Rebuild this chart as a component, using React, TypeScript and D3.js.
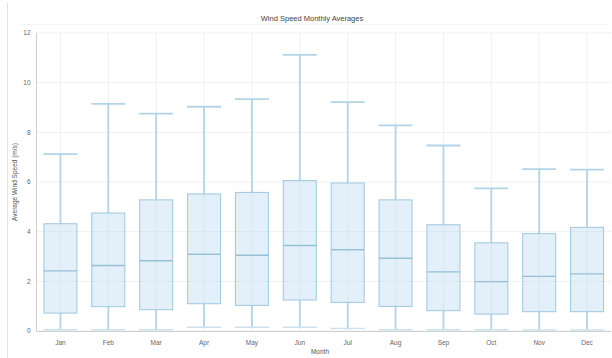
import React, { useEffect, useRef } from 'react';
import * as d3 from 'd3';

// box plot stats, m/s
const months = ['Jan', 'Feb', 'Mar', 'Apr', 'May', 'Jun', 'Jul', 'Aug', 'Sep', 'Oct', 'Nov', 'Dec'];
const mins = [0.05, 0.05, 0.05, 0.15, 0.15, 0.15, 0.1, 0.05, 0.05, 0.05, 0.04, 0.04];
const q1s = [0.72, 0.98, 0.86, 1.1, 1.03, 1.25, 1.15, 0.99, 0.82, 0.68, 0.78, 0.78];
const medians = [2.42, 2.64, 2.83, 3.09, 3.05, 3.44, 3.27, 2.93, 2.38, 1.99, 2.2, 2.3];
const q3s = [4.32, 4.75, 5.28, 5.52, 5.58, 6.06, 5.96, 5.28, 4.28, 3.55, 3.92, 4.17];
const maxs = [7.12, 9.15, 8.75, 9.03, 9.34, 11.12, 9.22, 8.28, 7.47, 5.74, 6.52, 6.5];
const yTicks = [0, 2, 4, 6, 8, 10, 12];

const W = 612;
const H = 358;
const margin = { top: 33, right: 1, bottom: 27, left: 36.5 };

const App = () => {
  const ref = useRef<SVGSVGElement>(null);

  useEffect(() => {
    const svg = d3.select(ref.current);
    svg.selectAll('*').remove();

    const font = '"Liberation Sans", Arial, sans-serif';

    const x = d3
      .scaleBand()
      .domain(months)
      .range([margin.left, W - margin.right])
      .paddingInner(0.29)
      .paddingOuter(0.145);

    const y = d3
      .scaleLinear()
      .domain([0, 12])
      .range([H - margin.bottom, margin.top]);

    // card edge on the left
    svg
      .append('line')
      .attr('x1', 7.5)
      .attr('x2', 7.5)
      .attr('y1', 3)
      .attr('y2', H)
      .attr('stroke', '#e3e3e3');
    svg
      .append('line')
      .attr('x1', 20)
      .attr('x2', 607)
      .attr('y1', 24.5)
      .attr('y2', 24.5)
      .attr('stroke', '#f5f5f5');

    // grid
    svg
      .append('g')
      .selectAll('line')
      .data(yTicks)
      .enter()
      .append('line')
      .attr('x1', margin.left)
      .attr('x2', W - margin.right)
      .attr('y1', (d) => y(d))
      .attr('y2', (d) => y(d))
      .attr('stroke', '#f0f0f0');

    svg
      .append('g')
      .selectAll('line')
      .data(months)
      .enter()
      .append('line')
      .attr('x1', (d) => x(d)! + x.bandwidth() / 2)
      .attr('x2', (d) => x(d)! + x.bandwidth() / 2)
      .attr('y1', margin.top)
      .attr('y2', H - margin.bottom)
      .attr('stroke', '#f0f0f0');

    const stats = months.map((m, i) => ({
      m,
      min: mins[i],
      q1: q1s[i],
      med: medians[i],
      q3: q3s[i],
      max: maxs[i],
    }));

    const bw = x.bandwidth();
    const g = svg
      .append('g')
      .selectAll('g')
      .data(stats)
      .enter()
      .append('g')
      .attr('transform', (d) => `translate(${x(d.m)},0)`);

    const whisker = '#b2d4e7';
    // whiskers
    g.append('line')
      .attr('x1', bw / 2)
      .attr('x2', bw / 2)
      .attr('y1', (d) => y(d.max))
      .attr('y2', (d) => y(d.q3))
      .attr('stroke', whisker)
      .attr('stroke-width', 1.8);
    g.append('line')
      .attr('x1', bw / 2)
      .attr('x2', bw / 2)
      .attr('y1', (d) => y(d.q1))
      .attr('y2', (d) => y(d.min))
      .attr('stroke', whisker)
      .attr('stroke-width', 1.8);
    // caps
    g.append('line')
      .attr('x1', 0)
      .attr('x2', bw)
      .attr('y1', (d) => y(d.max))
      .attr('y2', (d) => y(d.max))
      .attr('stroke', whisker)
      .attr('stroke-width', 1.8);
    g.append('line')
      .attr('x1', 0)
      .attr('x2', bw)
      .attr('y1', (d) => y(d.min))
      .attr('y2', (d) => y(d.min))
      .attr('stroke', '#cbe2ee')
      .attr('stroke-width', 1.5);
    // box
    g.append('rect')
      .attr('x', 0.5)
      .attr('width', bw - 1)
      .attr('y', (d) => y(d.q3))
      .attr('height', (d) => y(d.q1) - y(d.q3))
      .attr('fill', 'rgba(185,218,240,0.4)')
      .attr('stroke', '#a6cbe0')
      .attr('stroke-width', 1.1);
    // median
    g.append('line')
      .attr('x1', 0.5)
      .attr('x2', bw - 0.5)
      .attr('y1', (d) => y(d.med))
      .attr('y2', (d) => y(d.med))
      .attr('stroke', '#97bfd6')
      .attr('stroke-width', 1.4);

    // axes
    svg
      .append('line')
      .attr('x1', margin.left)
      .attr('x2', margin.left)
      .attr('y1', margin.top)
      .attr('y2', H - margin.bottom)
      .attr('stroke', '#cfcfcf');
    svg
      .append('line')
      .attr('x1', margin.left)
      .attr('x2', W - margin.right)
      .attr('y1', H - margin.bottom + 0.5)
      .attr('y2', H - margin.bottom + 0.5)
      .attr('stroke', '#cfcfcf');

    svg
      .append('g')
      .selectAll('text')
      .data(yTicks)
      .enter()
      .append('text')
      .attr('x', margin.left - 6)
      .attr('y', (d) => y(d))
      .attr('dy', '0.35em')
      .attr('text-anchor', 'end')
      .attr('font-family', font)
      .attr('font-size', 6.5)
      .attr('fill', '#666')
      .text((d) => d);

    svg
      .append('g')
      .selectAll('text')
      .data(months)
      .enter()
      .append('text')
      .attr('x', (d) => x(d)! + bw / 2)
      .attr('y', H - margin.bottom + 14)
      .attr('text-anchor', 'middle')
      .attr('font-family', font)
      .attr('font-size', 6.5)
      .attr('fill', '#666')
      .text((d) => d);

    svg
      .append('text')
      .attr('x', 320)
      .attr('y', 354)
      .attr('text-anchor', 'middle')
      .attr('font-family', font)
      .attr('font-size', 6.5)
      .attr('fill', '#555')
      .text('Month');

    svg
      .append('text')
      .attr('transform', `translate(17,${y(6)}) rotate(-90)`)
      .attr('text-anchor', 'middle')
      .attr('font-family', font)
      .attr('font-size', 6.5)
      .attr('fill', '#555')
      .text('Average Wind Speed (m/s)');

    svg
      .append('text')
      .attr('x', 312)
      .attr('y', 21)
      .attr('text-anchor', 'middle')
      .attr('font-family', font)
      .attr('font-size', 7.5)
      .attr('fill', '#444')
      .text('Wind Speed Monthly Averages');
  }, []);

  return (
    <svg
      ref={ref}
      width={W}
      height={H}
      style={{ position: 'absolute', left: 0, top: 0, background: '#fff' }}
    />
  );
};

export default App;
